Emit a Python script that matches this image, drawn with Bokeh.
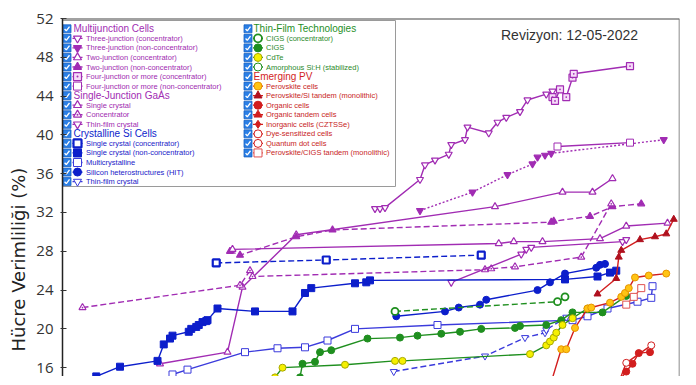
from bokeh.plotting import figure
from bokeh.models import Range1d, FixedTicker, Label, Span, ColumnDataSource, Title
from bokeh.core.properties import value
from bokeh.embed import file_html
from bokeh.resources import INLINE

# ---------------- data (year, efficiency %) ----------------
tj_conc_year = [1999.0, 1999.4, 1999.8, 2002.6, 2003.0, 2003.8, 2004.9, 2005.1, 2006.2, 2006.4, 2008.1, 2008.8, 2009.5, 2010.6, 2011.2, 2012.7, 2013.2]
tj_conc_eff = [32.4, 32.4, 32.5, 35.4, 36.9, 37.4, 38.0, 39.0, 39.5, 40.8, 40.2, 41.3, 41.8, 42.4, 43.6, 44.2, 44.5]
tj_nonconc_year = [2002.6, 2006.8, 2009.6, 2011.6, 2012.0, 2012.6, 2013.1, 2022.1]
tj_nonconc_eff = [32.2, 34.1, 35.9, 37.0, 37.7, 37.9, 38.1, 39.5]
dj_conc_year = [1981.8, 1987.2, 1988.4, 1992.7, 2008.6, 2014.0, 2016.4, 2018.0]
dj_conc_eff = [16.4, 17.6, 24.3, 29.7, 32.6, 34.1, 34.1, 35.5]
dj_nonconc_year = [1987.4, 1988.2, 1992.7, 1995.6, 2013.1, 2013.3, 2016.2, 2018.0, 2020.3]
dj_nonconc_eff = [28.0, 27.6, 29.5, 30.2, 31.0, 31.1, 31.6, 32.6, 32.9]
fj_conc_year = [2013.2, 2013.4, 2013.8, 2014.3, 2014.8, 2014.9, 2019.4]
fj_conc_eff = [43.9, 43.5, 44.7, 43.9, 45.9, 46.3, 47.1]
fj_nonconc_year = [2013.6, 2019.4]
fj_nonconc_eff = [38.8, 39.2]

gaas_single_year = [1987.6, 2008.9, 2010.1, 2012.4, 2017.0, 2019.1, 2022.4]
gaas_single_eff = [28.2, 28.8, 29.0, 29.0, 29.3, 30.6, 30.9]
gaas_conc_year = [1975.6, 1988.2, 1989.0, 1989.2, 2007.8, 2008.3, 2010.2, 2015.5, 2017.9]
gaas_conc_eff = [22.2, 24.5, 26.0, 25.4, 26.1, 26.2, 26.4, 27.4, 32.9]
gaas_tf_year = [2005.1, 2010.7, 2011.1, 2011.5, 2018.8, 2019.1]
gaas_tf_eff = [24.8, 27.7, 28.2, 28.4, 29.0, 29.2]

si_conc_year = [1986.3, 1995.1, 2007.5]
si_conc_eff = [26.8, 27.1, 27.6]
si_single_year = [1975.4, 1976.7, 1978.6, 1981.6, 1982.1, 1982.6, 1982.8, 1984.1, 1984.3, 1984.7, 1984.9, 1985.2, 1985.5, 1985.6, 1986.4, 1989.4, 1992.4, 1993.4, 1993.9, 1997.4, 1998.3, 1998.6, 2014.2, 2016.8, 2017.8, 2018.3]
si_single_eff = [13.9, 15.1, 16.1, 16.7, 18.4, 19.0, 19.3, 19.7, 20.0, 20.2, 20.4, 20.7, 20.8, 20.9, 22.1, 21.8, 21.8, 23.7, 24.2, 24.7, 24.8, 25.0, 25.1, 25.4, 25.8, 26.0]
si_multi_year = [1982.8, 1984.0, 1988.6, 1991.2, 1993.4, 1995.2, 1997.4, 2004.0, 2014.8, 2016.0, 2017.6, 2020.0, 2021.1, 2021.2]
si_multi_eff = [15.3, 15.8, 17.6, 18.0, 18.1, 18.8, 20.0, 20.4, 20.9, 21.3, 22.1, 22.8, 23.2, 24.4]
si_hit_year = [2000.7, 2004.6, 2005.7, 2007.4, 2007.9, 2012.0, 2013.0, 2014.2, 2016.7, 2017.0, 2017.4]
si_hit_eff = [21.3, 21.8, 22.2, 22.5, 23.0, 24.0, 24.8, 25.7, 26.3, 26.6, 26.7]
si_tf_year = [2000.5, 2007.8, 2011.0, 2012.6, 2012.7, 2014.3]
si_tf_eff = [15.6, 17.2, 19.1, 19.6, 19.9, 21.2]

cigs_conc_year = [2000.6, 2013.6, 2014.2]
cigs_conc_eff = [21.8, 22.8, 23.3]
cigs_year = [1991.0, 1993.0, 1993.2, 1994.2, 1994.6, 1995.5, 1998.4, 2001.0, 2002.4, 2004.3, 2005.8, 2007.5, 2010.2, 2010.6, 2012.7, 2013.9, 2014.8, 2017.2, 2019.1]
cigs_eff = [13.9, 15.0, 16.4, 16.6, 17.6, 17.8, 19.0, 19.1, 19.3, 19.5, 19.7, 20.0, 20.1, 20.3, 20.4, 20.9, 21.7, 21.7, 23.4]
cdte_year = [1990.0, 1991.0, 1991.6, 1996.6, 2000.6, 2001.2, 2011.4, 2012.7, 2013.0, 2013.3, 2013.5, 2014.0, 2014.8, 2016.0]
cdte_eff = [13.4, 15.0, 16.0, 16.3, 16.7, 16.7, 17.4, 18.3, 18.7, 19.1, 19.6, 20.4, 21.1, 22.1]
asi_year = [2012.0, 2016.4]
asi_eff = [13.4, 14.0]

perov_year = [2013.0, 2013.9, 2014.3, 2015.0, 2016.0, 2016.3, 2017.8, 2018.7, 2019.0, 2019.3, 2019.8, 2020.9, 2022.3]
perov_eff = [14.1, 17.9, 17.9, 20.1, 22.1, 22.2, 22.7, 23.3, 23.7, 24.2, 25.3, 25.5, 25.7]
perov_si_year = [2016.8, 2018.3, 2018.5, 2018.7, 2020.2, 2021.4, 2022.3, 2022.9]
perov_si_eff = [23.6, 25.2, 27.4, 28.1, 29.2, 29.5, 29.8, 31.3]
organic_year = [2017.9, 2019.1, 2019.6, 2020.1, 2021.0]
organic_eff = [13.6, 15.6, 16.4, 17.5, 17.6]
org_tandem_year = [2018.4]
org_tandem_eff = [14.2]
czts_year = []
czts_eff = []
dye_year = []
dye_eff = []
qd_year = [2018.3, 2019.1, 2021.1]
qd_eff = [13.8, 16.5, 18.3]
perov_cigs_year = [2019.1, 2019.7, 2020.3]
perov_cigs_eff = [22.5, 23.3, 24.2]

y_ticks = [16, 20, 24, 28, 32, 36, 40, 44, 48, 52]

# ---------------- styles ----------------
M = "#a12cb3"
B = "#0c1ecb"
BL = "#3b3bdc"
G = "#1f8f1f"
R = "#d21e1e"

# (name, xs, ys, line colour, dash, marker, fill, marker line colour, marker line width)
series = [
    ("Three-junction (concentrator)", tj_conc_year, tj_conc_eff, M, "solid", "inverted_triangle", "white", M, 1.2),
    ("Three-junction (non-concentrator)", tj_nonconc_year, tj_nonconc_eff, M, "2 2", "inverted_triangle", M, M, 1.2),
    ("Two-junction (concentrator)", dj_conc_year, dj_conc_eff, M, "solid", "triangle", "white", M, 1.2),
    ("Two-junction (non-concentrator)", dj_nonconc_year, dj_nonconc_eff, M, "6 3", "triangle", M, M, 1.2),
    ("Four-junction or more (concentrator)", fj_conc_year, fj_conc_eff, M, "solid", "square_dot", "#f6dcf8", M, 1.2),
    ("Four-junction or more (non-concentrator)", fj_nonconc_year, fj_nonconc_eff, M, "solid", "square", "white", M, 1.0),
    ("Single crystal", gaas_single_year, gaas_single_eff, M, "solid", "triangle", "white", M, 1.2),
    ("Concentrator", gaas_conc_year, gaas_conc_eff, M, "6 3", "triangle_dot", "white", M, 1.2),
    ("Thin-film crystal", gaas_tf_year, gaas_tf_eff, M, "solid", "inverted_triangle", "white", M, 1.2),
    ("Single crystal (concentrator)", si_conc_year, si_conc_eff, B, "6 3", "square", "white", B, 2.2),
    ("Single crystal (non-concentrator)", si_single_year, si_single_eff, B, "solid", "square", B, B, 1.0),
    ("Multicrystalline", si_multi_year, si_multi_eff, BL, "solid", "square", "white", BL, 1.0),
    ("Silicon heterostructures (HIT)", si_hit_year, si_hit_eff, B, "solid", "circle", B, B, 1.0),
    ("Thin-film crystal", si_tf_year, si_tf_eff, BL, "6 3", "inverted_triangle", "white", BL, 1.0),
    ("CIGS (concentrator)", cigs_conc_year, cigs_conc_eff, G, "6 3", "circle", "white", G, 1.8),
    ("CIGS", cigs_year, cigs_eff, G, "solid", "circle", G, G, 1.0),
    ("CdTe", cdte_year, cdte_eff, G, "solid", "circle", "#f5f000", "#a8a800", 1.0),
    ("Amorphous Si:H (stabilized)", asi_year, asi_eff, G, "solid", "circle", "white", G, 1.0),
    ("Perovskite cells", perov_year, perov_eff, R, "solid", "circle", "#ffc414", "#e79400", 1.0),
    ("Perovskite/Si tandem (monolithic)", perov_si_year, perov_si_eff, R, "solid", "triangle", "#b0101e", "#b0101e", 1.0),
    ("Organic cells", organic_year, organic_eff, R, "solid", "circle", R, R, 1.0),
    ("Organic tandem cells", org_tandem_year, org_tandem_eff, R, "solid", "triangle", R, R, 1.0),
    ("Inorganic cells (CZTSSe)", czts_year, czts_eff, R, "solid", "diamond", R, R, 1.0),
    ("Dye-sensitized cells", dye_year, dye_eff, R, "solid", "circle", "white", R, 1.0),
    ("Quantum dot cells", qd_year, qd_eff, R, "solid", "circle", "white", R, 1.0),
    ("Perovskite/CIGS tandem (monolithic)", perov_cigs_year, perov_cigs_eff, "#e05050", "solid", "square", "white", "#e05050", 1.0),
]

p = figure(width=687, height=376, x_range=Range1d(1974, 2023.36), y_range=Range1d(15.09, 52),
           x_axis_location=None, toolbar_location=None, output_backend="svg",
           min_border_left=62, min_border_right=8, min_border_top=18, min_border_bottom=0)
p.extra_x_ranges = {"px": Range1d(63, 680)}
p.extra_y_ranges = {"py": Range1d(377, 19)}
p.grid.visible = False
p.outline_line_color = None
p.background_fill_color = "white"
p.border_fill_color = "white"

ax = p.yaxis[0]
ax.ticker = FixedTicker(ticks=y_ticks)
ax.major_label_text_font = "Open Sans"
ax.major_label_text_font_size = "15px"
ax.major_label_text_color = "#333333"
ax.axis_line_color = "#222222"
ax.axis_line_width = 1.5
ax.major_tick_in = 4
ax.major_tick_out = 2
ax.major_tick_line_color = "#333333"
ax.minor_tick_line_color = None
ax.major_label_standoff = 7

p.add_layout(Span(location=52, dimension="width", line_color="#444444", line_width=2))
p.add_layout(Span(location=2023.36, dimension="height", line_color="#666666", line_width=1.5))

for name, xs, ys, lc, dash, mk, fill, mlc, mlw in series:
    src = ColumnDataSource(dict(x=xs, y=ys))
    p.line("x", "y", source=src, line_color=lc, line_width=1.4, line_dash=dash)
    p.scatter("x", "y", source=src, marker=mk, size=7, fill_color=fill, line_color=mlc, line_width=mlw)

# ---------------- legend (drawn in pixel ranges) ----------------
p.quad(left=[62], right=[396], top=[21], bottom=[187], x_range_name="px", y_range_name="py",
       fill_color="white", line_color="#9a9a9a", line_width=1)

left_rows = [("H", "Multijunction Cells", M), 0, 1, 2, 3, 4, 5,
             ("H", "Single-Junction GaAs", M), 6, 7, 8,
             ("H", "Crystalline Si Cells", B), 9, 10, 11, 12, 13]
right_rows = [("H", "Thin-Film Technologies", G), 14, 15, 16, 17,
              ("H", "Emerging PV", R), 18, 19, 20, 21, 22, 23, 24, 25]
text_col = {M: "#a02ab0", B: "#1a1ac8", BL: "#1a1ac8", G: "#2b8a2b", R: "#c81e1e", "#e05050": "#c81e1e"}

row0, dy = 29.3, 9.55
cb_x, cb_y = [], []
ht_x, ht_y, ht_t, ht_c = [], [], [], []
it_x, it_y, it_t, it_c = [], [], [], []
for rows, xcb, xmk, xtx, xhd in [(left_rows, 67.5, 78, 86.5, 74), (right_rows, 248.5, 258.5, 266.5, 254)]:
    for i, r in enumerate(rows):
        yy = row0 + dy * i
        cb_x.append(xcb)
        cb_y.append(yy)
        if isinstance(r, tuple):
            ht_x.append(xhd); ht_y.append(yy); ht_t.append(r[1]); ht_c.append(r[2])
        else:
            name, xs, ys, lc, dash, mk, fill, mlc, mlw = series[r]
            p.line([xmk - 5, xmk + 5], [yy, yy], x_range_name="px", y_range_name="py",
                   line_color=lc, line_width=1.3)
            p.scatter([xmk], [yy], x_range_name="px", y_range_name="py", marker=mk, size=8,
                      fill_color=fill, line_color=mlc, line_width=mlw)
            it_x.append(xtx); it_y.append(yy); it_t.append(name); it_c.append(text_col[lc])

p.scatter(cb_x, cb_y, x_range_name="px", y_range_name="py", marker="square", size=8,
          fill_color="#2a7fe6", line_color="#1b62c2", line_width=0.8)
p.multi_line([[x - 2.4, x - 0.7, x + 2.5] for x in cb_x], [[y + 0.2, y + 2.0, y - 2.2] for y in cb_y],
             x_range_name="px", y_range_name="py", line_color="white", line_width=1.3)
p.text(ht_x, ht_y, text=ht_t, x_range_name="px", y_range_name="py", text_color=ht_c,
       text_font=value("Liberation Sans"), text_font_size="10px", text_baseline="middle")
p.text(it_x, it_y, text=it_t, x_range_name="px", y_range_name="py", text_color=it_c,
       text_font=value("Liberation Sans"), text_font_size="7.5px", text_baseline="middle")

p.add_layout(Label(x=570, y=35, x_range_name="px", y_range_name="py", text="Revizyon: 12-05-2022",
                   text_font="Liberation Sans", text_font_size="14px", text_color="#333333",
                   text_align="center", text_baseline="middle"))
p.add_layout(Title(text="Hücre Verimliliği (%)", align="left", offset=25,
                   text_font="DejaVu Sans", text_font_size="18px", text_font_style="normal",
                   text_color="#222222"), "left")

open("out.html", "w").write(file_html(p, INLINE))
